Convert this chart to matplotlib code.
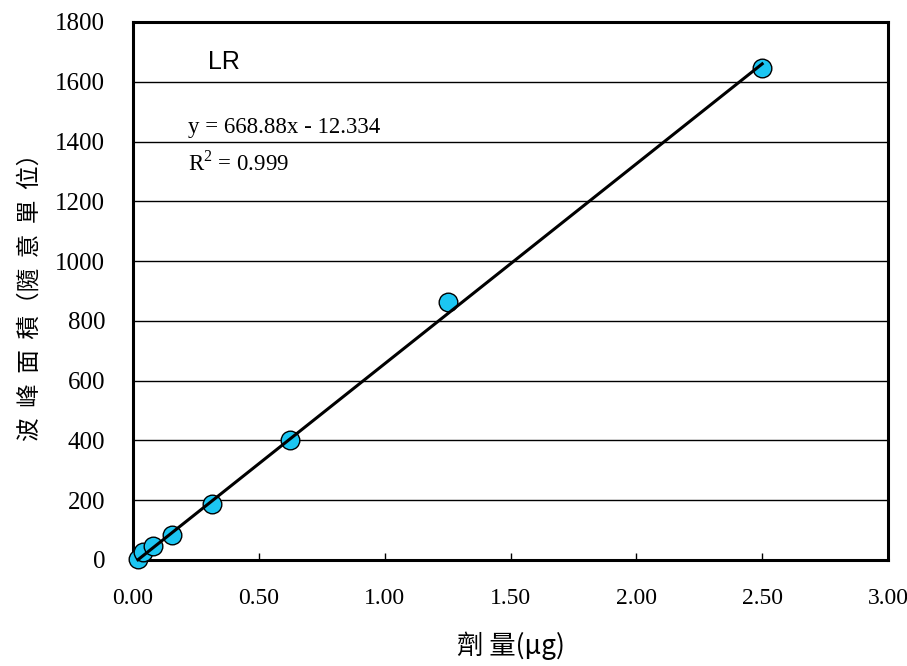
import numpy as np
import matplotlib.pyplot as plt

# 數據
dose = [0.0195, 0.039, 0.078, 0.156, 0.3125, 0.625, 1.25, 2.5]
area = [3, 27, 47, 84, 186, 401, 864, 1646]
slope = 668.88
intercept = -12.334
x_ticks = [0.0, 0.5, 1.0, 1.5, 2.0, 2.5, 3.0]
y_ticks = [0, 200, 400, 600, 800, 1000, 1200, 1400, 1600, 1800]

plt.rcParams['mathtext.fontset'] = 'custom'
plt.rcParams['mathtext.rm'] = 'Liberation Serif'

serif = ['Liberation Serif', 'DejaVu Serif']
cjk = ['Noto Sans CJK TC', 'Liberation Serif', 'DejaVu Sans']

fig = plt.figure(figsize=(9.07, 6.66), dpi=100)
ax = fig.add_axes([133 / 907, 1 - 560 / 666, 755 / 907, 538 / 666])

ax.scatter(dose, area, s=180, color='#1CC6F2', edgecolors='black',
           linewidths=1, zorder=3, clip_on=False)
fx = np.array([min(dose), max(dose)])
ax.plot(fx, slope * fx + intercept, color='black', lw=2.2, zorder=4,
        clip_on=False)

ax.set_xlim(0, 3)
ax.set_ylim(0, 1800)
ax.set_xticks(x_ticks)
ax.set_yticks(y_ticks)
ax.set_xticklabels([f'{v:.2f}' for v in x_ticks], fontfamily=serif, fontsize=17)
ax.set_yticklabels([str(v) for v in y_ticks], fontfamily=serif, fontsize=18)
ax.tick_params(axis='x', direction='in', length=5, width=1, pad=20)
ax.tick_params(axis='y', length=0, pad=20)
ax.yaxis.grid(True, color='black', lw=1)
ax.set_axisbelow(True)
for s in ax.spines.values():
    s.set_linewidth(2.2)

ax.set_xlabel('劑 量(μg)', fontfamily=cjk, fontsize=19, labelpad=16)
ax.set_ylabel('波  峰  面  積（隨  意  單  位）', fontfamily=cjk, fontsize=17,
              labelpad=10)

ax.text(0.30, 1665, 'LR', fontfamily='Liberation Sans', fontsize=18,
        ha='left', va='center')
ax.text(0.218, 1447, f'y = {slope}x - {abs(intercept)}', fontfamily=serif,
        fontsize=16.5, ha='left', va='center')
ax.text(0.218, 1328, r'R$^{2}$ = 0.999', fontfamily=serif, fontsize=16.5,
        ha='left', va='center')

fig.savefig('out.png', dpi=100)
